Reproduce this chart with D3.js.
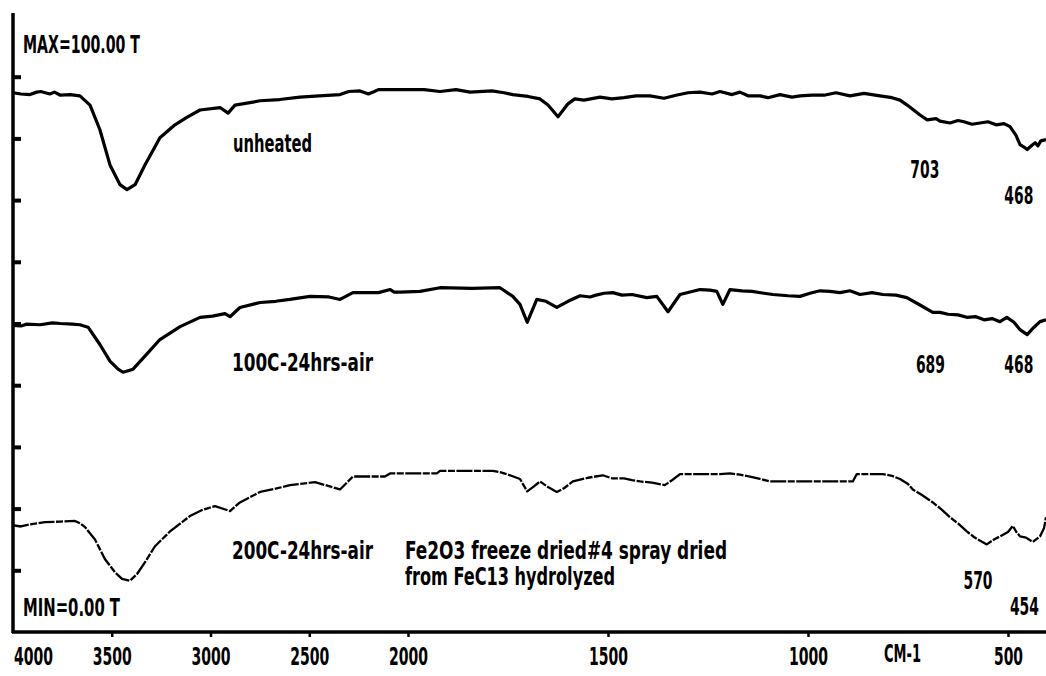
<!DOCTYPE html>
<meta charset="utf-8">
<script src="https://d3js.org/d3.v7.min.js"></script>
<style>
  body{margin:0;background:#fff;}
  text{font-family:"Liberation Sans Narrow","DejaVu Sans Condensed","Roboto Condensed",sans-serif;font-weight:bold;fill:#000;}
</style>
<body>
<div id="ir"></div>
<script>
// wavenumber (cm-1) and %T
const unheated=[[4000,87.4],[3960,87.2],[3914,87.1],[3880,87.5],[3860,87.6],[3813,87.2],[3790,87.5],[3760,87.0],[3711,87.1],[3661,86.9],[3610,85.4],[3560,81.4],[3509,75.7],[3458,72.5],[3423,71.7],[3382,72.5],[3332,75.7],[3256,80.1],[3180,82.2],[3120,83.4],[3053,84.6],[2952,85.0],[2911,84.1],[2876,85.4],[2800,85.8],[2749,86.1],[2650,86.3],[2547,86.7],[2450,86.9],[2344,87.1],[2300,87.6],[2243,87.7],[2200,87.2],[2170,87.6],[2150,87.9],[2041,87.9],[1960,87.9],[1920,87.6],[1880,87.9],[1845,87.5],[1790,87.7],[1760,87.4],[1738,87.1],[1700,86.8],[1670,86.4],[1650,85.4],[1625,83.5],[1600,85.6],[1583,86.4],[1560,86.2],[1520,86.7],[1490,86.4],[1460,86.6],[1430,86.9],[1395,86.9],[1360,86.5],[1330,87.0],[1300,87.4],[1270,87.5],[1240,87.2],[1220,87.6],[1190,87.1],[1170,87.5],[1150,86.9],[1120,86.9],[1100,86.6],[1070,87.1],[1040,86.7],[1020,86.9],[990,87.0],[960,87.0],[930,87.4],[895,86.9],[860,87.3],[820,86.9],[790,86.6],[770,86.2],[752,85.4],[720,83.8],[702,83.0],[680,83.2],[670,82.8],[645,82.5],[625,82.9],[610,82.7],[590,82.3],[570,82.5],[550,82.7],[530,82.2],[510,82.4],[495,81.9],[480,80.5],[470,79.0],[460,78.6],[452,78.2],[440,78.9],[432,79.3],[425,78.8],[418,79.6],[405,79.8]];
const air100=[[4000,49.7],[3960,49.6],[3930,49.9],[3863,49.8],[3800,50.1],[3760,50.0],[3700,49.9],[3661,49.8],[3620,49.4],[3560,46.6],[3509,43.9],[3468,42.6],[3443,42.1],[3392,42.6],[3332,44.7],[3256,47.4],[3154,49.5],[3053,51.0],[2990,51.2],[2927,51.6],[2901,51.1],[2851,52.6],[2749,53.4],[2670,53.6],[2598,53.9],[2496,54.4],[2400,54.3],[2344,53.9],[2279,55.0],[2150,55.0],[2090,55.5],[2070,55.1],[2040,55.1],[1970,55.2],[1920,55.8],[1840,55.7],[1770,55.8],[1738,54.4],[1720,53.1],[1702,50.2],[1678,53.9],[1655,53.6],[1628,52.6],[1600,53.6],[1570,54.5],[1545,54.3],[1530,54.6],[1510,54.9],[1488,55.0],[1465,54.6],[1440,54.7],[1403,54.2],[1378,54.4],[1350,51.9],[1320,54.7],[1295,55.1],[1270,55.5],[1245,55.4],[1228,55.2],[1213,53.1],[1195,55.5],[1165,55.3],[1140,55.2],[1110,54.9],[1088,54.7],[1050,54.5],[1020,54.4],[995,54.9],[970,55.3],[945,55.2],[920,55.0],[895,55.3],[870,54.7],[840,55.0],[813,54.7],[780,54.6],[753,54.2],[720,53.0],[688,51.8],[670,51.8],[650,51.5],[625,51.4],[603,51.0],[580,51.1],[560,50.6],[540,50.8],[520,50.3],[503,51.0],[485,50.2],[470,49.0],[452,48.2],[435,49.4],[420,50.3],[405,50.6]];
const air200=[[4000,17.3],[3960,17.1],[3920,17.4],[3880,17.6],[3838,17.8],[3760,17.9],[3686,18.0],[3660,17.6],[3635,17.0],[3585,15.0],[3534,11.8],[3484,9.7],[3448,8.6],[3408,8.3],[3372,9.4],[3332,11.3],[3281,13.9],[3205,16.3],[3104,18.8],[3040,19.8],[2977,20.4],[2901,19.6],[2851,21.0],[2749,22.7],[2660,23.3],[2598,23.8],[2471,24.3],[2344,23.1],[2279,25.2],[2117,25.2],[2091,25.7],[1928,25.7],[1920,26.1],[1788,26.1],[1770,25.9],[1745,25.4],[1720,24.8],[1702,22.8],[1685,23.6],[1670,24.4],[1650,23.5],[1628,22.7],[1610,23.3],[1588,24.4],[1550,25.0],[1513,25.4],[1490,24.9],[1460,24.9],[1440,24.6],[1420,24.4],[1390,24.2],[1358,23.8],[1340,24.6],[1320,25.6],[1220,25.6],[1195,25.7],[1170,25.5],[1145,25.2],[1120,24.8],[1095,24.4],[1020,24.4],[888,24.4],[878,25.6],[813,25.6],[790,25.3],[770,24.8],[750,24.0],[738,23.1],[715,22.2],[688,21.0],[665,19.8],[645,18.6],[625,17.6],[603,16.3],[585,15.4],[575,15.0],[553,14.2],[535,15.0],[520,15.5],[500,16.2],[488,17.2],[480,16.3],[470,15.5],[455,15.3],[438,14.6],[420,15.5],[410,16.8],[405,18.6]];

const seriesNames=["unheated","100C-24hrs-air","200C-24hrs-air"];
const xTicks=[4000,3500,3000,2500,2000,1500,1000,500];
const yTicks=[10,20,30,40,50,60,70,80,90];
const peakLabels=[["703",703,73.6],["468",468,69.4],["689",689,42.0],["468",468,42.0],["570",570,7.0],["454",454,2.8]];
const noteLines=["Fe2O3 freeze dried#4 spray dried","from FeC13 hydrolyzed"];

const W=1046,H=676;
const svg=d3.select("#ir").append("svg")
    .attr("width",W).attr("height",H)
    .style("display","block");

const x=d3.scaleLinear().domain([4000,2000,400]).range([13,408,1048]);
const y=d3.scaleLinear().domain([0,100]).range([632,15]);

// left axis ticks (pointing inward)
svg.append("g")
    .attr("transform",`translate(${x(4000)},0)`)
    .call(d3.axisLeft(y).tickValues(yTicks).tickSize(-8).tickFormat(""))
    .call(g=>g.select(".domain").remove())
    .call(g=>g.selectAll(".tick line").attr("stroke","#000").attr("stroke-width",4));

// bottom axis
const xa=svg.append("g")
    .attr("transform",`translate(0,${y(0)})`)
    .call(d3.axisBottom(x).tickValues(xTicks).tickSize(5).tickPadding(10).tickFormat(d3.format("d")))
    .call(g=>g.select(".domain").remove());
xa.selectAll(".tick line").attr("stroke","#000").attr("stroke-width",2.5)
    .filter(d=>d===4000).remove();
xa.selectAll(".tick text")
    .attr("font-size",25)
    .attr("font-family",null)
    .attr("textLength",d=>String(d).length*10-1)
    .attr("lengthAdjust","spacingAndGlyphs")
    .attr("dx",d=>d===4000?20:0);

// axis frame lines
svg.append("line").attr("x1",x(4000)).attr("x2",x(4000)).attr("y1",13).attr("y2",y(0)+1)
    .attr("stroke","#000").attr("stroke-width",3.5);
svg.append("line").attr("x1",x(4000)-1).attr("x2",W).attr("y1",y(0)).attr("y2",y(0))
    .attr("stroke","#000").attr("stroke-width",3.5);

const line=d3.line().x(d=>x(d[0])).y(d=>y(d[1]));
[unheated,air100,air200].forEach((s,i)=>{
  svg.append("path").datum(s)
    .attr("d",line)
    .attr("fill","none")
    .attr("stroke","#000")
    .attr("stroke-width",i<2?3.2:2.3)
    .attr("stroke-dasharray",i<2?null:"16 1.5 7 1.5")
    .attr("stroke-linejoin","round");
});

function label(t,x0,yb,w){
  svg.append("text").attr("x",x0).attr("y",yb)
    .attr("font-size",25)
    .attr("textLength",w||t.length*10-1)
    .attr("lengthAdjust","spacingAndGlyphs")
    .text(t);
}
label("MAX=100.00 T",23,53,117);
label("MIN=0.00 T",23,616,97);
label(seriesNames[0],233,152,79);
label(seriesNames[1],232,371,141);
label(seriesNames[2],232,559,141);
label(noteLines[0],405,559,322);
label(noteLines[1],405,585,210);
label("CM-1",884,662,37);

peakLabels.forEach(p=>{
  svg.append("text").attr("x",x(p[1])-2).attr("y",y(p[2]))
    .attr("font-size",25).attr("text-anchor","middle")
    .attr("textLength",29).attr("lengthAdjust","spacingAndGlyphs")
    .text(p[0]);
});
</script>
</body>
